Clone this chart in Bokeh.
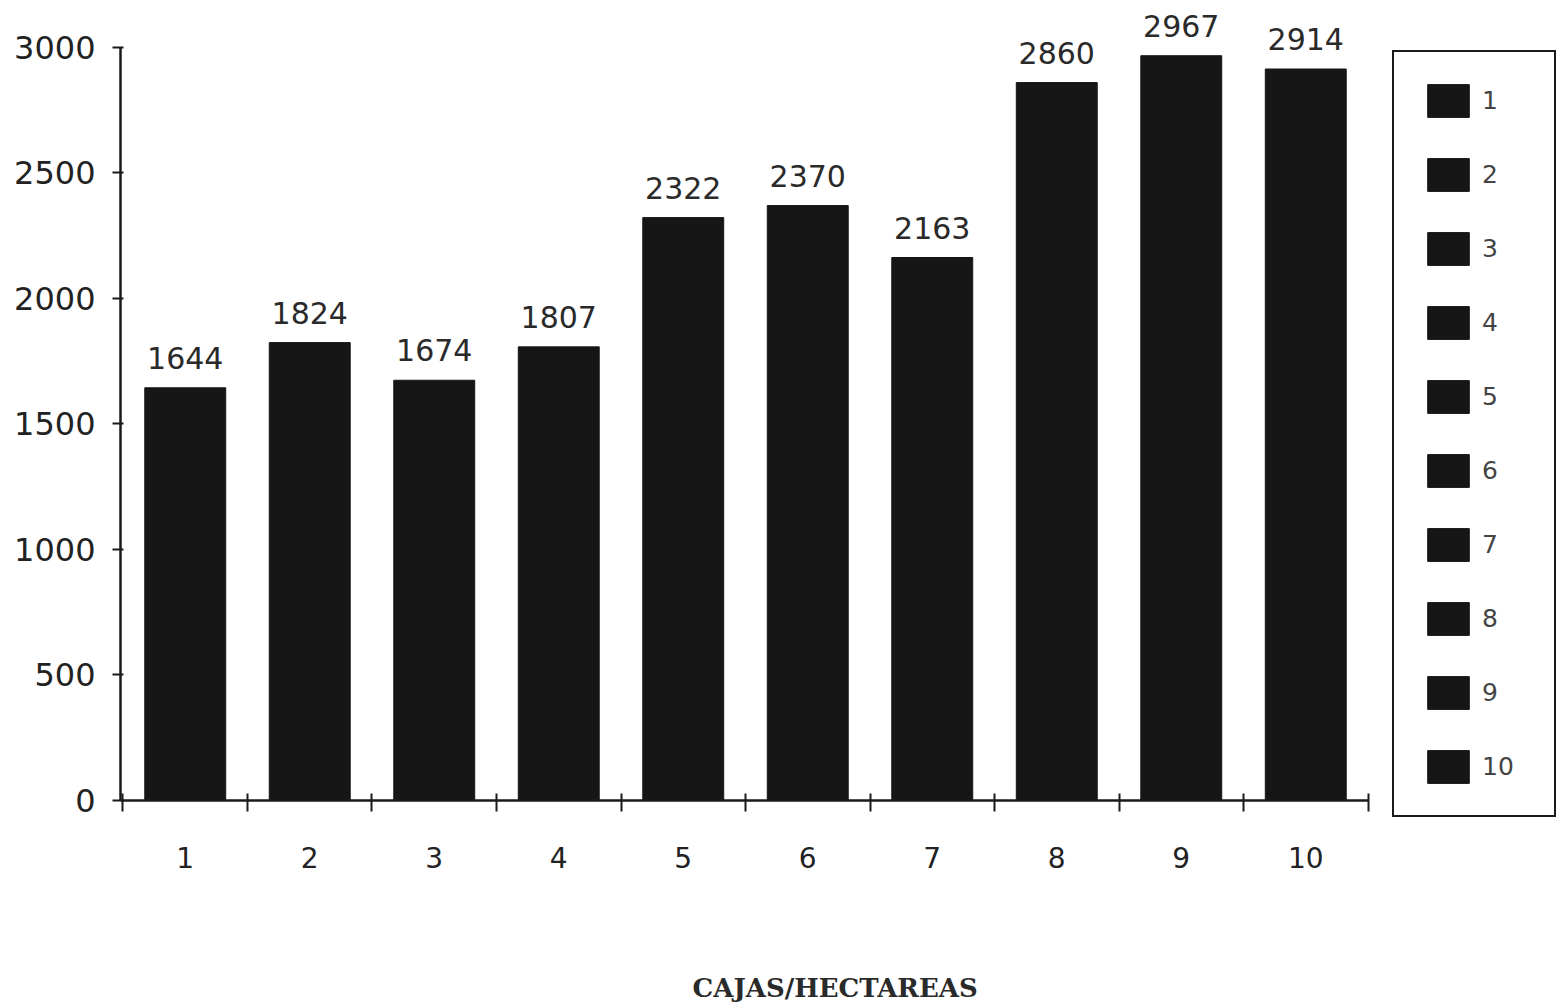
from bokeh.plotting import figure
from bokeh.models import (Range1d, FixedTicker, ColumnDataSource, LabelSet, Legend,
                          LegendItem, Label)
from bokeh.core.properties import value
from bokeh.embed import file_html
from bokeh.resources import INLINE

categories = ["1", "2", "3", "4", "5", "6", "7", "8", "9", "10"]
values = [1644, 1824, 1674, 1807, 2322, 2370, 2163, 2860, 2967, 2914]
y_ticks = [0, 500, 1000, 1500, 2000, 2500, 3000]
x_title = "CAJAS/HECTAREAS"

xs = list(range(1, len(categories) + 1))
src = ColumnDataSource(dict(x=xs, top=values, lab=[str(v) for v in values], cat=categories))

p = figure(width=1560, height=1005, output_backend="svg", toolbar_location=None,
           x_range=Range1d(0.48, 12.046), y_range=Range1d(-817, 3179),
           min_border_left=120, min_border_right=0, min_border_top=2, min_border_bottom=0)
p.outline_line_color = None
p.grid.visible = False
p.background_fill_color = "white"

bars = p.vbar(x="x", top="top", width=0.65, source=src, fill_color="#161616", line_color="#161616")

labels = LabelSet(x="x", y="top", text="lab", source=src, y_offset=19,
                  text_align="center", text_baseline="alphabetic",
                  text_font=value("DejaVu Sans"), text_font_size="30px", text_color="#2a2a2a")
p.add_layout(labels)

# x axis, placed at y = 0
xa = p.xaxis[0]
xa.fixed_location = 0
xa.bounds = (0.48, 10.5)
xa.ticker = FixedTicker(ticks=xs, minor_ticks=[x - 0.5 for x in xs] + [len(xs) + 0.5])
xa.major_label_overrides = {x: c for x, c in zip(xs, categories)}
xa.major_tick_line_color = None
xa.major_tick_out = 0
xa.major_tick_in = 0
xa.minor_tick_line_color = "#1a1a1a"
xa.minor_tick_line_width = 2
xa.minor_tick_in = 7
xa.minor_tick_out = 11
xa.axis_line_color = "#1a1a1a"
xa.axis_line_width = 2.5
xa.major_label_standoff = 36
xa.major_label_text_font = "DejaVu Sans"
xa.major_label_text_font_size = "28px"
xa.major_label_text_color = "#222222"

# y axis
ya = p.yaxis[0]
ya.ticker = FixedTicker(ticks=y_ticks)
ya.bounds = (0, 3000)
ya.minor_tick_line_color = None
ya.major_tick_out = 8
ya.major_tick_in = 3
ya.major_tick_line_width = 2
ya.major_tick_line_color = "#1a1a1a"
ya.axis_line_color = "#1a1a1a"
ya.axis_line_width = 2.5
ya.major_label_standoff = 17
ya.major_label_text_font = "DejaVu Sans"
ya.major_label_text_font_size = "32px"
ya.major_label_text_color = "#222222"

# legend
items = [LegendItem(label=c, renderers=[bars], index=i) for i, c in enumerate(categories)]
legend = Legend(items=items, location=(1272, 188), orientation="vertical",
                glyph_width=52, glyph_height=41, label_standoff=8, label_width=44,
                spacing=33, padding=28, margin=0,
                label_text_font="DejaVu Sans", label_text_font_size="25px",
                label_text_color="#444444",
                border_line_color="#1a1a1a", border_line_width=2.5, border_line_alpha=1.0,
                background_fill_color="white", background_fill_alpha=1.0)
p.add_layout(legend, "center")

title = Label(x=6.22, y=-749, text=x_title, text_align="center", text_baseline="middle",
              text_font="DejaVu Serif", text_font_style="bold", text_font_size="26px",
              text_color="#2a2a2a")
p.add_layout(title)

open("out.html", "w").write(file_html(p, INLINE))
